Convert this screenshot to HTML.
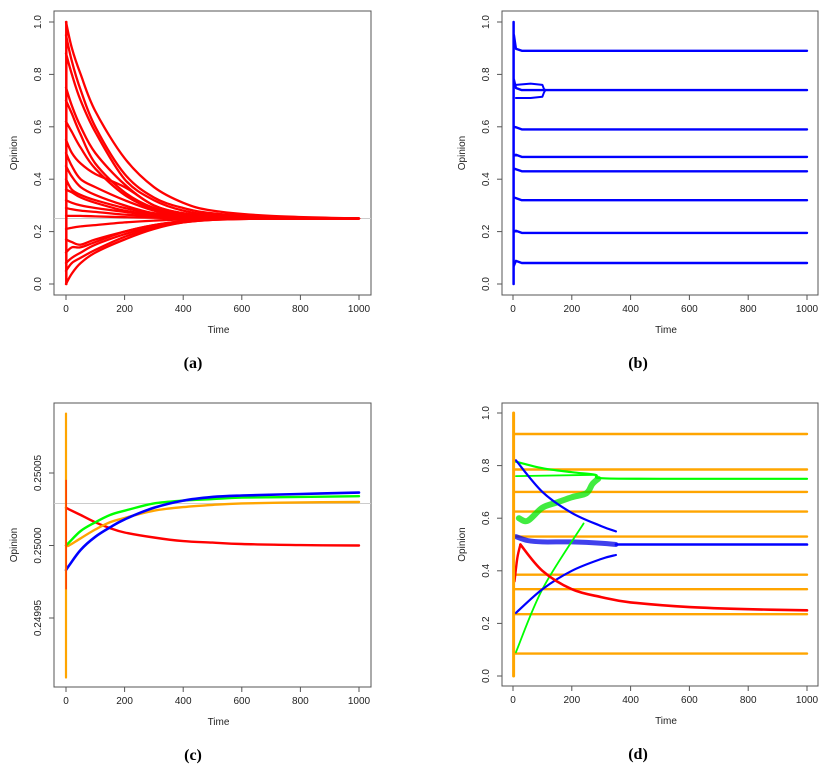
<!DOCTYPE html>
<html><head><meta charset="utf-8"><style>
body{margin:0;background:#fff;}
svg{display:block;font-family:"Liberation Sans",sans-serif;}
.t{font-size:10px;fill:#222;}
.lab{font-family:"Liberation Serif",serif;font-weight:bold;font-size:16px;fill:#000;}
</style></head><body>
<svg id="s" width="837" height="767" viewBox="0 0 837 767"></svg>
<script>
// ---- shared ----
const timeTicks=[0,200,400,600,800,1000];
// Panel (a)
const aTimes=[0,20,50,100,200,300,400,500,700,1000];
const aSeries=[
[1.0,0.90,0.80,0.66,0.48,0.37,0.31,0.28,0.26,0.25],
[0.95,0.85,0.74,0.60,0.42,0.33,0.29,0.27,0.255,0.25],
[0.88,0.80,0.70,0.58,0.40,0.32,0.28,0.265,0.255,0.25],
[0.75,0.68,0.60,0.50,0.38,0.30,0.27,0.26,0.252,0.25],
[0.70,0.65,0.57,0.46,0.35,0.29,0.265,0.258,0.251,0.25],
[0.62,0.58,0.52,0.44,0.34,0.285,0.262,0.255,0.25,0.25],
[0.55,0.50,0.46,0.42,0.37,0.30,0.27,0.26,0.25,0.25],
[0.50,0.45,0.40,0.37,0.32,0.28,0.26,0.255,0.25,0.25],
[0.45,0.41,0.37,0.34,0.30,0.27,0.258,0.253,0.25,0.25],
[0.40,0.36,0.34,0.32,0.29,0.27,0.26,0.255,0.25,0.25],
[0.36,0.35,0.33,0.31,0.28,0.265,0.257,0.253,0.25,0.25],
[0.32,0.31,0.30,0.29,0.275,0.262,0.255,0.252,0.25,0.25],
[0.29,0.285,0.28,0.275,0.265,0.258,0.253,0.251,0.25,0.25],
[0.26,0.26,0.26,0.258,0.255,0.253,0.251,0.25,0.25,0.25],
[0.21,0.215,0.22,0.225,0.235,0.242,0.247,0.249,0.25,0.25],
[0.17,0.16,0.15,0.17,0.20,0.225,0.24,0.247,0.25,0.25],
[0.12,0.14,0.14,0.16,0.20,0.225,0.24,0.247,0.25,0.25],
[0.08,0.10,0.12,0.15,0.19,0.22,0.238,0.246,0.25,0.25],
[0.05,0.08,0.10,0.13,0.18,0.215,0.235,0.245,0.25,0.25],
[0.0,0.04,0.08,0.12,0.17,0.21,0.235,0.245,0.25,0.25]];
const aTicks=[0,0.2,0.4,0.6,0.8,1.0];
// Panel (b)
const bLevels=[0.89,0.74,0.59,0.485,0.43,0.32,0.195,0.08];
const bStarts=[0.95,0.78,0.60,0.49,0.44,0.33,0.20,0.07];
// Panel (c): values as offset from 0.25 in units of 1e-5
const cTimes=[0,10,50,100,150,200,300,400,500,600,800,1000];
const cRed=[2.6,2.5,2.1,1.6,1.2,0.9,0.55,0.3,0.2,0.1,0.03,0];
const cGreen=[0,0.2,1.0,1.6,2.1,2.4,2.9,3.1,3.2,3.3,3.35,3.4];
const cOrange=[0,0,0.5,1.1,1.6,1.9,2.4,2.65,2.8,2.9,2.97,3.0];
const cBlue=[-1.7,-1.4,-0.3,0.6,1.25,1.8,2.6,3.1,3.35,3.45,3.55,3.65];
const cTickVals=[-5,0,5];
const cTickLabels=["0.24995","0.25000","0.25005"];
const cRef=2.9;
// Panel (d)
const dOrange=[0.92,0.785,0.70,0.625,0.53,0.385,0.33,0.235,0.085];
const dRedT=[25,100,200,300,400,600,800,1000];
const dRedV=[0.50,0.40,0.33,0.30,0.28,0.262,0.254,0.25];
const dBlueHiT=[10,100,200,300,350];const dBlueHiV=[0.82,0.70,0.62,0.57,0.55];
const dBlueLoT=[10,100,200,300,350];const dBlueLoV=[0.24,0.33,0.40,0.445,0.46];
const dGreenLoT=[10,100,240];const dGreenLoV=[0.09,0.33,0.58];
const dGreenTopT=[10,100,200,280,300,500,1000];const dGreenTopV=[0.815,0.79,0.775,0.765,0.752,0.75,0.75];
const dGreenMidT=[10,280];const dGreenMidV=[0.76,0.765];
const dGreenCloudT=[20,50,100,150,200,250,270,290];const dGreenCloudV=[0.60,0.59,0.64,0.66,0.68,0.695,0.73,0.75];
const dBlueCloudT=[10,50,100,200,300,350];const dBlueCloudV=[0.53,0.515,0.51,0.51,0.505,0.50];

const S=document.getElementById('s');const NS="http://www.w3.org/2000/svg";
function el(tag,attrs,parent,txt){const e=document.createElementNS(NS,tag);for(const k in attrs)e.setAttribute(k,attrs[k]);if(txt!==undefined)e.textContent=txt;(parent||S).appendChild(e);return e;}
function panel(name,box,x0,x1,ylo,yhi,yt0,yt1,yTicks,yLabels,label,labX){
  const g=el('g',{},S);
  
  
  const X=t=>x0+(x1-x0)*t/1000;
  const Y=v=>yt0+(yt1-yt0)*(v-ylo)/(yhi-ylo);
  const fr=el('rect',{x:box[0],y:box[1],width:box[2]-box[0],height:box[3]-box[1],fill:'none',stroke:'#555','stroke-width':1},g);
  
  timeTicks.forEach(t=>{el('line',{x1:X(t),x2:X(t),y1:box[3],y2:box[3]+5,stroke:'#555'},g);
    const tx=el('text',{x:X(t),y:box[3]+17,'text-anchor':'middle',class:'t'},g,String(t));
    });
  yTicks.forEach((v,i)=>{el('line',{x1:box[0]-5,x2:box[0],y1:Y(v),y2:Y(v),stroke:'#555'},g);
    const tx=el('text',{x:box[0]-13,y:Y(v),'text-anchor':'middle',class:'t',transform:`rotate(-90 ${box[0]-13} ${Y(v)})`},g,yLabels[i]);
    });
  const xt=el('text',{x:(box[0]+box[2])/2+6,y:box[3]+38,'text-anchor':'middle',class:'t'},g,'Time');
  
  const yx=box[0]-37,yy=(box[1]+box[3])/2;
  const ytl=el('text',{x:yx,y:yy,'text-anchor':'middle',class:'t',transform:`rotate(-90 ${yx} ${yy})`},g,'Opinion');
  
  const lb=el('text',{x:labX,y:box[3]+73,'text-anchor':'middle',class:'lab'},g,label);
  
  return {g,X,Y};
}
function line(p,ts,vs,color,w,name,straight){
  const P=ts.map((t,i)=>[p.X(t),p.Y(vs[i])]);
  let d='M'+P[0][0].toFixed(1)+','+P[0][1].toFixed(1);
  for(let i=0;i<P.length-1;i++){
    const p1=P[i],p2=P[i+1];
    if(straight){d+=` L${p2[0].toFixed(1)},${p2[1].toFixed(1)}`;continue;}
    const p0=P[Math.max(0,i-1)],p3=P[Math.min(P.length-1,i+2)];
    const c1=[p1[0]+(p2[0]-p0[0])/6,p1[1]+(p2[1]-p0[1])/6];
    const c2=[p2[0]-(p3[0]-p1[0])/6,p2[1]-(p3[1]-p1[1])/6];
    d+=` C${c1[0].toFixed(1)},${c1[1].toFixed(1)} ${c2[0].toFixed(1)},${c2[1].toFixed(1)} ${p2[0].toFixed(1)},${p2[1].toFixed(1)}`;
  }
  const e=el('path',{d:d,fill:'none',stroke:color,'stroke-width':w,'stroke-linejoin':'round','stroke-linecap':'round'},p.g);
  return e;}

// (a)
const pa=panel('panel-a',[54,11,371,295],66,359,0,1,284,22,aTicks,aTicks.map(v=>v.toFixed(1)),'(a)',193);
el('line',{x1:54,x2:371,y1:pa.Y(0.25),y2:pa.Y(0.25),stroke:'#ccc'},pa.g);
aSeries.forEach(s=>line(pa,aTimes,s,'#f00',2.3,'opinion-trajectory'));
line(pa,[1,1],[0,1],'#f00',2.5,'initial-spread',true);

// (b)
const pb=panel('panel-b',[502,11,818,295],513,807,0,1,284,22,aTicks,aTicks.map(v=>v.toFixed(1)),'(b)',638);
line(pb,[2,2],[0,1],'#00f',2.5,'initial-spread',true);
bLevels.forEach((v,i)=>line(pb,[3,10,30,1000],[bStarts[i],v+0.008,v,v],'#00f',2.4,'opinion-cluster',true));
line(pb,[10,60,100,105,110],[0.76,0.765,0.76,0.745,0.74],'#00f',2,'merging-branch',true);
line(pb,[10,60,100,105,110],[0.71,0.71,0.715,0.73,0.74],'#00f',2,'merging-branch',true);

// (c)
const pc=panel('panel-c',[54,403,371,687],66,359,-5,5,618,473,cTickVals,cTickLabels,'(c)',193);
el('line',{x1:54,x2:371,y1:pc.Y(cRef),y2:pc.Y(cRef),stroke:'#ccc'},pc.g);
line(pc,cTimes,cRed,'#f00',2.4,'series-red');
line(pc,cTimes,cOrange,'#ffa500',2.4,'series-orange');
line(pc,cTimes,cGreen,'#0f0',2.4,'series-green');
line(pc,cTimes,cBlue,'#00f',2.6,'series-blue');
line(pc,[0,0],[-9.1,9.1],'#ffa500',2.2,'initial-spread',true);
line(pc,[0.5,0.5],[-3,4.5],'#f00',1,'initial-spread-red',true);

// (d)
const pd=panel('panel-d',[502,403,818,686],513,807,0,1,676,413,aTicks,aTicks.map(v=>v.toFixed(1)),'(d)',638);
dOrange.forEach(v=>line(pd,[4,1000],[v,v],'#ffa500',2.4,'orange-cluster',true));
line(pd,dBlueCloudT,dBlueCloudV,'rgba(0,0,230,0.75)',5,'blue-noisy-cluster');
line(pd,[350,1000],[0.50,0.50],'#00f',2.6,'blue-cluster',true);
line(pd,dGreenCloudT,dGreenCloudV,'rgba(0,230,0,0.75)',6,'green-noisy-cluster');
line(pd,dGreenTopT,dGreenTopV,'#0f0',2.2,'green-cluster');
line(pd,dGreenMidT,dGreenMidV,'#0f0',1.8,'green-branch',true);
line(pd,dGreenLoT,dGreenLoV,'#0f0',1.8,'green-rising');
line(pd,dBlueHiT,dBlueHiV,'#00f',2.2,'blue-falling');
line(pd,dBlueLoT,dBlueLoV,'#00f',2.2,'blue-rising');
line(pd,[5,15,25],[0.36,0.45,0.50],'#f00',2.4,'red-rise');
line(pd,dRedT,dRedV,'#f00',2.6,'red-trajectory');
line(pd,[2,2],[0,1],'#ffa500',3,'initial-spread',true);
</script>
</body></html>
